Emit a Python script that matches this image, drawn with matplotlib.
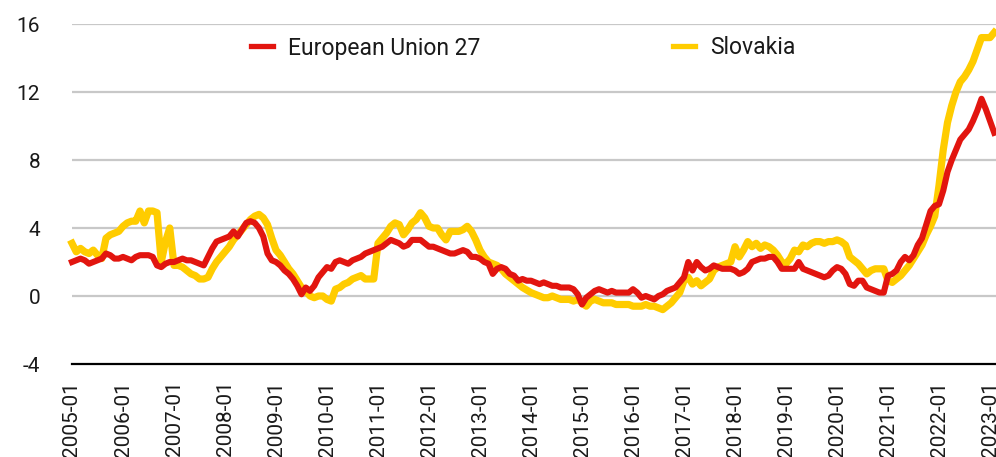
import numpy as np
import pandas as pd
import matplotlib
matplotlib.use("Agg")
import matplotlib.pyplot as plt

# HICP annual rate of change (%), monthly from 2005-01
start_month = "2005-01"

eu27 = [
    2.0, 2.1, 2.2, 2.1, 1.9, 2.0, 2.1, 2.2, 2.5, 2.4, 2.2, 2.2,   # 2005
    2.3, 2.2, 2.1, 2.3, 2.4, 2.4, 2.4, 2.3, 1.8, 1.7, 1.9, 2.0,   # 2006
    2.0, 2.1, 2.2, 2.1, 2.1, 2.0, 1.9, 1.8, 2.3, 2.8, 3.2, 3.3,   # 2007
    3.4, 3.5, 3.8, 3.5, 3.9, 4.3, 4.4, 4.3, 4.0, 3.5, 2.5, 2.1,   # 2008
    2.0, 1.8, 1.5, 1.3, 1.0, 0.6, 0.1, 0.5, 0.3, 0.6, 1.1, 1.4,   # 2009
    1.7, 1.6, 2.0, 2.1, 2.0, 1.9, 2.1, 2.2, 2.3, 2.5, 2.6, 2.7,   # 2010
    2.8, 2.9, 3.1, 3.3, 3.2, 3.1, 2.9, 3.0, 3.3, 3.3, 3.3, 3.1,   # 2011
    2.9, 2.9, 2.8, 2.7, 2.6, 2.5, 2.5, 2.6, 2.7, 2.6, 2.3, 2.3,   # 2012
    2.2, 2.0, 1.9, 1.3, 1.6, 1.7, 1.6, 1.3, 1.2, 0.9, 1.0, 0.9,   # 2013
    0.9, 0.8, 0.7, 0.8, 0.7, 0.6, 0.6, 0.5, 0.5, 0.5, 0.4, 0.1,   # 2014
    -0.5, -0.1, 0.1, 0.3, 0.4, 0.3, 0.2, 0.3, 0.2, 0.2, 0.2, 0.2,  # 2015
    0.4, 0.2, -0.1, 0.0, -0.1, -0.2, 0.0, 0.1, 0.3, 0.4, 0.5, 0.8,  # 2016
    1.1, 2.0, 1.5, 2.0, 1.7, 1.5, 1.6, 1.8, 1.7, 1.6, 1.6, 1.6,   # 2017
    1.5, 1.3, 1.4, 1.6, 2.0, 2.1, 2.2, 2.2, 2.3, 2.3, 2.0, 1.6,   # 2018
    1.6, 1.6, 1.6, 2.0, 1.6, 1.5, 1.4, 1.3, 1.2, 1.1, 1.2, 1.5,   # 2019
    1.7, 1.6, 1.3, 0.7, 0.6, 0.9, 0.9, 0.5, 0.4, 0.3, 0.2, 0.2,   # 2020
    1.2, 1.3, 1.5, 2.0, 2.3, 2.1, 2.4, 3.0, 3.4, 4.2, 5.0, 5.3,   # 2021
    5.4, 6.2, 7.3, 8.0, 8.6, 9.2, 9.5, 9.8, 10.3, 10.9, 11.6, 11.0,  # 2022
    10.3, 9.6,                                                   # 2023
]

slovakia = [
    3.1, 2.6, 2.8, 2.6, 2.5, 2.7, 2.4, 2.2, 3.4, 3.6, 3.7, 3.8,   # 2005
    4.1, 4.3, 4.4, 4.4, 5.0, 4.3, 5.0, 5.0, 4.9, 2.0, 3.2, 4.0,   # 2006
    1.8, 1.8, 1.7, 1.5, 1.3, 1.2, 1.0, 1.0, 1.1, 1.6, 2.0, 2.3,   # 2007
    2.6, 2.9, 3.3, 3.6, 3.9, 4.2, 4.5, 4.7, 4.8, 4.6, 4.2, 3.4,   # 2008
    2.7, 2.4, 2.0, 1.6, 1.3, 0.9, 0.5, 0.3, 0.0, -0.1, 0.0, 0.0,  # 2009
    -0.2, -0.3, 0.4, 0.5, 0.7, 0.8, 1.0, 1.1, 1.2, 1.0, 1.0, 1.0,  # 2010
    3.1, 3.4, 3.7, 4.1, 4.3, 4.2, 3.6, 3.9, 4.3, 4.5, 4.9, 4.6,   # 2011
    4.1, 4.0, 4.0, 3.6, 3.3, 3.8, 3.8, 3.8, 3.9, 4.1, 3.8, 3.3,   # 2012
    2.7, 2.3, 2.0, 1.9, 1.8, 1.6, 1.3, 1.1, 0.9, 0.7, 0.5, 0.35,  # 2013
    0.2, 0.1, 0.0, -0.1, -0.1, 0.0, -0.1, -0.2, -0.2, -0.2, -0.3, -0.2,  # 2014
    -0.4, -0.6, -0.3, -0.2, -0.3, -0.4, -0.4, -0.4, -0.5, -0.5, -0.5, -0.5,  # 2015
    -0.6, -0.6, -0.6, -0.5, -0.6, -0.6, -0.7, -0.8, -0.6, -0.4, -0.1, 0.2,  # 2016
    0.9, 1.1, 0.7, 0.9, 0.6, 0.8, 1.0, 1.5, 1.7, 1.8, 1.9, 2.0,   # 2017
    2.9, 2.3, 2.7, 3.2, 2.9, 3.1, 2.8, 3.0, 2.9, 2.7, 2.4, 2.0,   # 2018
    1.9, 2.2, 2.7, 2.6, 3.0, 2.9, 3.1, 3.2, 3.2, 3.1, 3.2, 3.2,   # 2019
    3.3, 3.2, 3.0, 2.3, 2.1, 1.9, 1.6, 1.3, 1.5, 1.6, 1.6, 1.6,   # 2020
    0.9, 0.8, 1.0, 1.2, 1.5, 1.8, 2.2, 2.6, 3.0, 3.6, 4.1, 4.7,   # 2021
    6.5, 8.6, 10.2, 11.2, 12.0, 12.6, 12.9, 13.3, 13.8, 14.5, 15.2, 15.2,  # 2022
    15.2, 15.5,                                                  # 2023
]

series_names = ["European Union 27", "Slovakia"]
y_ticks = [-4, 0, 4, 8, 12, 16]

months = pd.date_range(start_month, periods=len(eu27), freq="MS")
x = np.arange(len(months))
# one label every January
tick_pos = x[::12]
tick_labels = [months[p].strftime("%Y-%m") for p in tick_pos]

plt.rcParams["font.family"] = ["Roboto", "DejaVu Sans"]
plt.rcParams["axes.unicode_minus"] = False

RED = "#E2150F"
YELLOW = "#FFCC00"

fig = plt.figure(figsize=(9.96, 4.57), dpi=100)
W, H = 996, 457
left_px, right_px, top_px, bottom_px = 72, 996, 24, 364
ax = fig.add_axes([left_px / W, 1 - bottom_px / H,
                   (right_px - left_px) / W, (bottom_px - top_px) / H])

ax.plot(x, slovakia, color=YELLOW, lw=5.2, label=series_names[1],
        solid_joinstyle="round", zorder=3, clip_on=False)
ax.plot(x, eu27, color=RED, lw=4.4, label=series_names[0],
        solid_joinstyle="round", zorder=4, clip_on=False)

ax.set_yticks(y_ticks)
ax.set_ylim(-4, 16)
ax.set_xticks(tick_pos)
ax.set_xticklabels(tick_labels, rotation=90, va="top", ha="center")
ax.set_xlim(0, (right_px - left_px) / 4.25)

for v in y_ticks[1:]:
    ax.axhline(v, color="#C8C8C8", lw=1.6, zorder=1)

for s in ["top", "right", "left"]:
    ax.spines[s].set_visible(False)
ax.spines["bottom"].set_color("black")
ax.spines["bottom"].set_linewidth(1.6)
ax.spines["bottom"].set_zorder(5)

ax.tick_params(axis="both", length=0, labelsize=15, colors="#1a1a1a")
ax.tick_params(axis="y", pad=23)
ax.tick_params(axis="x", pad=12)

handles, labels = ax.get_legend_handles_labels()
leg = fig.legend(handles[::-1], labels[::-1], loc="center left",
                 bbox_to_anchor=(251 / W, 1 - 48 / H), ncol=2, frameon=False,
                 fontsize=16.5, handlelength=0.96, handletextpad=0.65,
                 columnspacing=8.4, borderpad=0, borderaxespad=0)
for line in leg.get_lines():
    line.set_linewidth(3.8)
for t in leg.get_texts():
    t.set_color("#1a1a1a")

fig.savefig("out.png", dpi=100)
